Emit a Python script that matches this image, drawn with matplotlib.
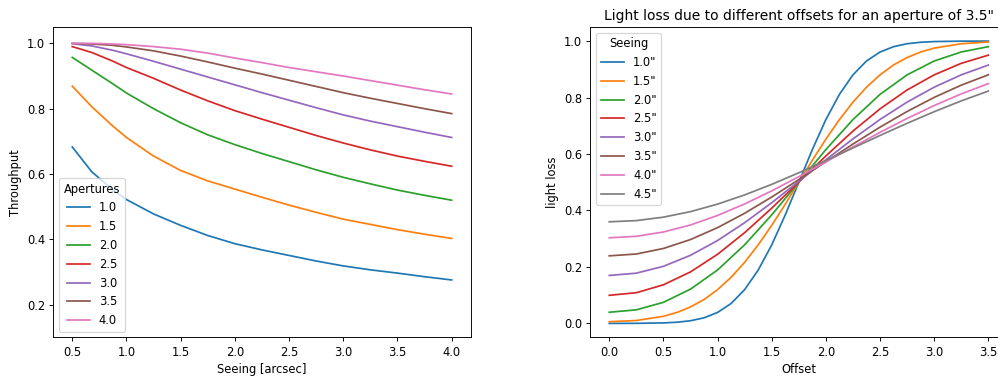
import matplotlib
matplotlib.use("Agg")
import matplotlib.pyplot as plt

# left panel: throughput vs seeing for several apertures
seeing = [0.5, 0.68, 0.87, 1.0, 1.25, 1.5, 1.75, 2.0, 2.25, 2.5, 2.75, 3.0, 3.25, 3.5, 3.75, 4.0]
apertures = ["1.0", "1.5", "2.0", "2.5", "3.0", "3.5", "4.0"]
tp_10 = [0.683, 0.607, 0.553, 0.522, 0.478, 0.443, 0.412, 0.387, 0.368, 0.351, 0.334, 0.319, 0.307, 0.297, 0.286, 0.276]
tp_15 = [0.869, 0.806, 0.748, 0.712, 0.655, 0.611, 0.579, 0.554, 0.529, 0.505, 0.483, 0.462, 0.446, 0.430, 0.416, 0.403]
tp_20 = [0.957, 0.918, 0.877, 0.848, 0.800, 0.757, 0.720, 0.690, 0.663, 0.638, 0.613, 0.590, 0.570, 0.551, 0.535, 0.520]
tp_25 = [0.990, 0.972, 0.946, 0.926, 0.893, 0.857, 0.824, 0.794, 0.768, 0.743, 0.718, 0.695, 0.674, 0.655, 0.639, 0.624]
tp_30 = [0.999, 0.992, 0.979, 0.968, 0.945, 0.921, 0.897, 0.873, 0.849, 0.826, 0.803, 0.781, 0.762, 0.745, 0.728, 0.712]
tp_35 = [1.000, 0.998, 0.994, 0.989, 0.977, 0.961, 0.943, 0.924, 0.906, 0.887, 0.868, 0.849, 0.832, 0.816, 0.800, 0.785]
tp_40 = [1.000, 1.000, 0.998, 0.996, 0.990, 0.982, 0.970, 0.955, 0.941, 0.926, 0.913, 0.900, 0.886, 0.872, 0.858, 0.845]
throughputs = [tp_10, tp_15, tp_20, tp_25, tp_30, tp_35, tp_40]

# right panel: light loss vs offset, aperture 3.5"
offsets_fine = [0.0, 0.25, 0.5, 0.625, 0.75, 0.875, 1.0, 1.125, 1.25, 1.375, 1.5, 1.625, 1.75,
                1.875, 2.0, 2.125, 2.25, 2.375, 2.5, 2.625, 2.75, 2.875, 3.0, 3.25, 3.5]
loss_10 = [0.0, 0.0002, 0.0017, 0.0041, 0.0093, 0.0197, 0.0387, 0.0705, 0.1196, 0.1888, 0.278, 0.3843, 0.5,
           0.6157, 0.722, 0.8112, 0.8804, 0.9295, 0.9613, 0.9803, 0.9907, 0.9959, 0.9983, 0.9998, 1.0]
loss_15 = [0.006, 0.0102, 0.0251, 0.0388, 0.0583, 0.0845, 0.1196, 0.1633, 0.2163, 0.2781, 0.3474, 0.4222, 0.5,
           0.5779, 0.6527, 0.722, 0.7837, 0.8367, 0.8804, 0.9155, 0.9417, 0.9614, 0.9752, 0.9907, 0.997]
offsets = [0.0, 0.25, 0.5, 0.75, 1.0, 1.25, 1.5, 1.75, 2.0, 2.25, 2.5, 2.75, 3.0, 3.25, 3.5]
loss_20 = [0.0394, 0.048, 0.0746, 0.1213, 0.1893, 0.2783, 0.3844, 0.5, 0.6157, 0.722, 0.8113, 0.8804, 0.9295, 0.9614, 0.9803]
loss_25 = [0.0995, 0.1086, 0.1367, 0.1824, 0.2448, 0.3214, 0.4082, 0.5005, 0.5932, 0.6812, 0.76, 0.8269, 0.8804, 0.9212, 0.9502]
loss_30 = [0.1698, 0.1779, 0.2022, 0.2412, 0.2936, 0.3567, 0.4275, 0.503, 0.5795, 0.6535, 0.7224, 0.7839, 0.8367, 0.8805, 0.9151]
loss_35 = [0.2392, 0.2458, 0.2654, 0.297, 0.3392, 0.3901, 0.4476, 0.5093, 0.5726, 0.6352, 0.6952, 0.7506, 0.8005, 0.8439, 0.8806]
loss_40 = [0.3032, 0.3084, 0.3238, 0.3486, 0.3823, 0.423, 0.4694, 0.5197, 0.5722, 0.625, 0.6767, 0.726, 0.7717, 0.8129, 0.8494]
loss_45 = [0.3599, 0.3641, 0.3763, 0.3959, 0.4225, 0.4551, 0.4925, 0.5335, 0.5769, 0.6214, 0.6658, 0.7088, 0.7499, 0.7882, 0.823]
seeing_labels = ['1.0"', '1.5"', '2.0"', '2.5"', '3.0"', '3.5"', '4.0"', '4.5"']

dpi = 998 / 12
fig = plt.figure(figsize=(12, 379 / dpi), dpi=dpi)
ax1 = fig.add_axes([0.0534, 0.1095, 0.4182, 0.8193])
ax2 = fig.add_axes([0.5915, 0.1095, 0.4178, 0.8193])

for lab, tp in zip(apertures, throughputs):
    ax1.plot(seeing, tp, label=lab)
ax1.set_ylim(0.1, 1.05)
ax1.set_xlabel("Seeing [arcsec]")
ax1.set_ylabel("Throughput")
ax1.legend(title="Apertures", loc="lower left")

ax2.plot(offsets_fine, loss_10, label=seeing_labels[0])
ax2.plot(offsets_fine, loss_15, label=seeing_labels[1])
for lab, ll in zip(seeing_labels[2:], [loss_20, loss_25, loss_30, loss_35, loss_40, loss_45]):
    ax2.plot(offsets, ll, label=lab)
ax2.set_xlabel("Offset")
ax2.set_ylabel("light loss")
ax2.set_title('Light loss due to different offsets for an aperture of 3.5"')
ax2.legend(title="Seeing", loc="upper left")

fig.savefig("out.png", dpi=dpi)
